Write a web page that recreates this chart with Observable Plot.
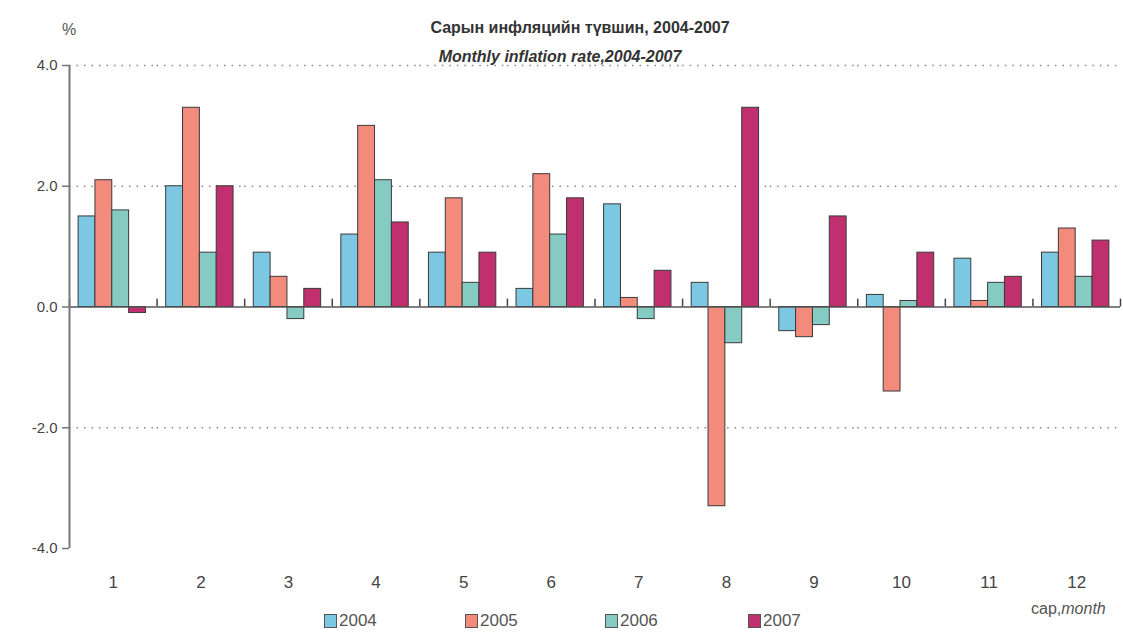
<!DOCTYPE html>
<html>
<head>
<meta charset="utf-8">
<script src="https://cdn.jsdelivr.net/npm/d3@7"></script>
<script src="https://cdn.jsdelivr.net/npm/@observablehq/plot@0.6"></script>
<style>
  html, body { margin: 0; padding: 0; background: #fff; }
  #wrap { position: relative; width: 1123px; height: 633px; font-family: "Liberation Sans", Arial, sans-serif; }
  #chart { position: absolute; left: 0; top: 0; }
  .ov { position: absolute; white-space: nowrap; color: #333; }
  .title { left: 0; width: 1160px; text-align: center; top: 19px; font-size: 16px; font-weight: bold; }
  .subtitle { left: 0; width: 1120px; text-align: center; top: 48px; font-size: 16px; font-weight: bold; font-style: italic; }
  .pct { left: 62px; top: 21px; font-size: 16px; color: #555; }
  .unit { left: 1031px; top: 600px; font-size: 16px; color: #555; }
  .legend { top: 611px; font-size: 17px; color: #555; display: flex; align-items: center; }
  .sw { display: inline-block; width: 11px; height: 12px; border: 1px solid #555; margin-right: 2px; }
</style>
</head>
<body>
<div id="wrap">
  <div id="chart"></div>
  <div class="ov title">Сарын инфляцийн түвшин, 2004-2007</div>
  <div class="ov subtitle">Monthly inflation rate,2004-2007</div>
  <div class="ov pct">%</div>
  <div class="ov unit">cap,<i>month</i></div>
  <div id="legend"></div>
</div>
<script>
const months = ["1","2","3","4","5","6","7","8","9","10","11","12"];
const years = ["2004","2005","2006","2007"];
const colors = ["#7cc7e2", "#f38b7d", "#86cbc3", "#c0306f"];
const v2004 = [1.5, 2.0, 0.9, 1.2, 0.9, 0.3, 1.7, 0.4, -0.4, 0.2, 0.8, 0.9];
const v2005 = [2.1, 3.3, 0.5, 3.0, 1.8, 2.2, 0.15, -3.3, -0.5, -1.4, 0.1, 1.3];
const v2006 = [1.6, 0.9, -0.2, 2.1, 0.4, 1.2, -0.2, -0.6, -0.3, 0.1, 0.4, 0.5];
const v2007 = [-0.1, 2.0, 0.3, 1.4, 0.9, 1.8, 0.6, 3.3, 1.5, 0.9, 0.5, 1.1];
const yTicks = [-4, -2, 0, 2, 4];
const gridLevels = [-2, 2, 4];

const series = [v2004, v2005, v2006, v2007];
const data = [];
months.forEach((m, i) => years.forEach((y, j) => data.push({month: m, year: y, value: series[j][i]})));

const W = 1123, H = 633, mL = 69, mR = 3, mT = 65, mB = 85;
const padOuter = 0.6, align = 0.45;
const facetW = (W - mL - mR) / months.length;
const step = facetW / (years.length + 2 * padOuter);
const firstCenter = (facetW - step * years.length) * align + step / 2;

const chart = Plot.plot({
  width: W, height: H,
  marginLeft: mL, marginRight: mR, marginTop: mT, marginBottom: mB,
  style: {fontFamily: "'Liberation Sans', Arial, sans-serif", color: "#444", background: "transparent"},
  fx: {domain: months, padding: 0, round: false, label: null, axis: null},
  x: {domain: years, paddingInner: 0, paddingOuter: padOuter, align: align, round: false, axis: null},
  y: {domain: [-4, 4], ticks: yTicks, label: null},
  color: {domain: years, range: colors},
  marks: [
    Plot.ruleY(gridLevels, {stroke: "#888", strokeDasharray: "1.5,6", strokeWidth: 1.5}),
    Plot.barY(data, {fx: "month", x: "year", y: "value", fill: "year", stroke: "#3a3a3a", strokeWidth: 1}),
    Plot.ruleY([0], {stroke: "#555", strokeWidth: 1.3}),
    Plot.ruleX(months, {fx: d => d, x: () => years[0], y1: 0, y2: 0.13, dx: -firstCenter, stroke: "#444", strokeWidth: 1.5}),
    Plot.ruleX([months[months.length - 1]], {fx: d => d, x: () => years[0], y1: 0, y2: 0.13, dx: facetW - firstCenter, stroke: "#444", strokeWidth: 1.5}),
    Plot.axisY({ticks: yTicks, tickFormat: d => d.toFixed(1), tickSize: 7, tickPadding: 5, fontSize: 15, stroke: "#777", strokeWidth: 1.5}),
    Plot.ruleX([0], {fx: d => months[0], x: () => years[0], y1: -4, y2: 4, dx: -firstCenter, stroke: "#777", strokeWidth: 2}),
    Plot.axisFx({anchor: "bottom", fontSize: 17, tickSize: 0, tickPadding: 27, label: null, fill: "#444"})
  ]
});
document.getElementById("chart").appendChild(chart);

const legendX = [324, 465, 605, 748];
const lg = document.getElementById("legend");
years.forEach((y, i) => {
  const d = document.createElement("div");
  d.className = "ov legend";
  d.style.left = legendX[i] + "px";
  d.innerHTML = `<span class="sw" style="background:${colors[i]}"></span>${y}`;
  lg.appendChild(d);
});
</script>
</body>
</html>
